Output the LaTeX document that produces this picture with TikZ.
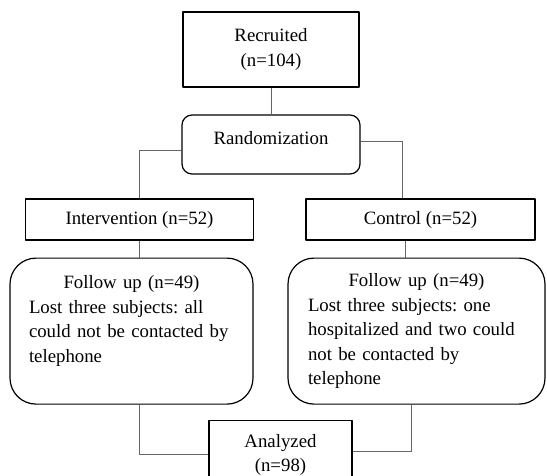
\documentclass[tikz,border=0pt]{standalone}
\usepackage{fontspec}
\setmainfont{Liberation Serif}
\frenchspacing
\begin{document}
\begin{tikzpicture}[x=1pt, y=-1pt, font=\fontsize{18.8}{24.5}\selectfont, line join=round,
	box/.style={draw, line width=1.2pt, inner sep=0pt},
	roundbox/.style={box, rounded corners=10pt},
	followbox/.style={draw, line width=1.2pt, rounded corners=26pt, align=left, inner ysep=15pt, minimum height=146pt, anchor=north},
	link/.style={draw=black!60, line width=0.8pt}]
	\useasboundingbox (0,0) rectangle (547,475);
	\clip (0,0) rectangle (547,475);
	% Khung
	\node[box, align=center, minimum width=176pt, minimum height=75pt] (rec) at (271,49.5) {Recruited\\(n=104)};
	\node[roundbox, minimum width=178pt, text height=29.5pt, text depth=29.5pt] (rand) at (271,144.5) {Randomization};
	\node[box, minimum width=228pt, minimum height=41pt] (int) at (139.5,219.5) {Intervention (n=52)};
	\node[box, minimum width=229pt, minimum height=41pt] (ctl) at (420.5,219.5) {Control (n=52)};
	\node[followbox, text width=205pt, inner xsep=19pt] (fl) at (131.5,257.5)
		{{\centering Follow up (n=49)\par}Lost three subjects: all\\ could not be contacted by\\ telephone\\ \mbox{}};
	\node[followbox, text width=217pt, inner xsep=20pt] (fr) at (416.5,257.5)
		{{\centering Follow up (n=49)\par}Lost three subjects: one\\ hospitalized and two could\\ not be contacted by\\ telephone};
	\node[box, align=center, minimum width=143pt, minimum height=69pt, anchor=north] (ana) at (280.5,420) {Analyzed\\(n=98)};
	% Duong noi
	\draw[link] (rec) -- (rand);
	\draw[link] ([yshift=-5.5pt]rand.west) -| (int.north);
	\draw[link] ([yshift=3.5pt]rand.east) -| ([xshift=-18pt]ctl.north);
	\draw[link] (int.south) -- (int.south |- fl.north);
	\draw[link] ([xshift=-15.5pt]ctl.south) -- ([xshift=-15.5pt]ctl.south |- fr.north);
	\draw[link] (fl.south -| int.south) |- ([yshift=0.5pt]ana.west);
	\draw[link] ([yshift=3.5pt]ana.east) -| ([xshift=-5.5pt]fr.south);
\end{tikzpicture}
\end{document}
